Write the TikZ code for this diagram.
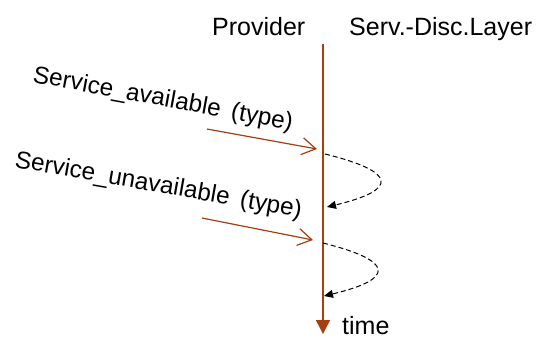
\documentclass[tikz,border=0pt]{standalone}
\usepackage{fontspec}
\setmainfont{Liberation Sans}
\usetikzlibrary{arrows.meta}
\definecolor{rust}{RGB}{166,62,18}
\begin{document}
\begin{tikzpicture}[x=1pt,y=1pt,
  lbl/.style={font=\fontsize{25}{28}\selectfont, inner sep=0pt},
  slbl/.style={font=\fontsize{24.3}{28}\selectfont, inner sep=0pt},
  lifeline/.style={draw=rust, line width=1.5pt, -{Triangle[length=14pt,width=14pt]}},
  msg/.style={draw=rust, line width=1.2pt, -{Straight Barb[length=14pt,width=17pt,line width=1.2pt]}},
  loopback/.style={draw=black, line width=1pt, dash pattern=on 5pt off 3pt, -{Triangle[length=9pt,width=8pt]}}]
\useasboundingbox (0,0) rectangle (538,-338);
% headers
\node[lbl, anchor=base west] (prov) at (212,-35) {Provider};
\node[lbl, anchor=base west] (sdl) at (349,-35) {Serv.-Disc.Layer};
% lifeline
\coordinate (ltop) at (323,-44);
\coordinate (lbot) at (323,-334);
\draw[lifeline] (ltop) -- (lbot);
\node[lbl, anchor=base west] (time) at (342,-334) {time};
% messages
\node[slbl, anchor=base west, rotate=-10.5] (m1) at (32,-82) {Service\_available\hspace{11pt}(type)};
\node[slbl, anchor=base west, rotate=-10] (m2) at (14,-167) {Service\_unavailable\hspace{11pt}(type)};
\coordinate (a1s) at (207,-129);
\coordinate (a1e) at (317,-149);
\coordinate (a2s) at (202,-218);
\coordinate (a2e) at (313,-240);
\draw[msg] (a1s) -- (a1e);
\draw[msg] (a2s) -- (a2e);
% loops
\coordinate (c1s) at (325,-154);
\coordinate (c1e) at (327,-207);
\coordinate (c2s) at (323,-243);
\coordinate (c2e) at (324,-296);
\draw[loopback] (c1s) .. controls (398,-172) and (398,-190) .. (c1e);
\draw[loopback] (c2s) .. controls (395,-261) and (395,-279) .. (c2e);
\end{tikzpicture}
\end{document}
